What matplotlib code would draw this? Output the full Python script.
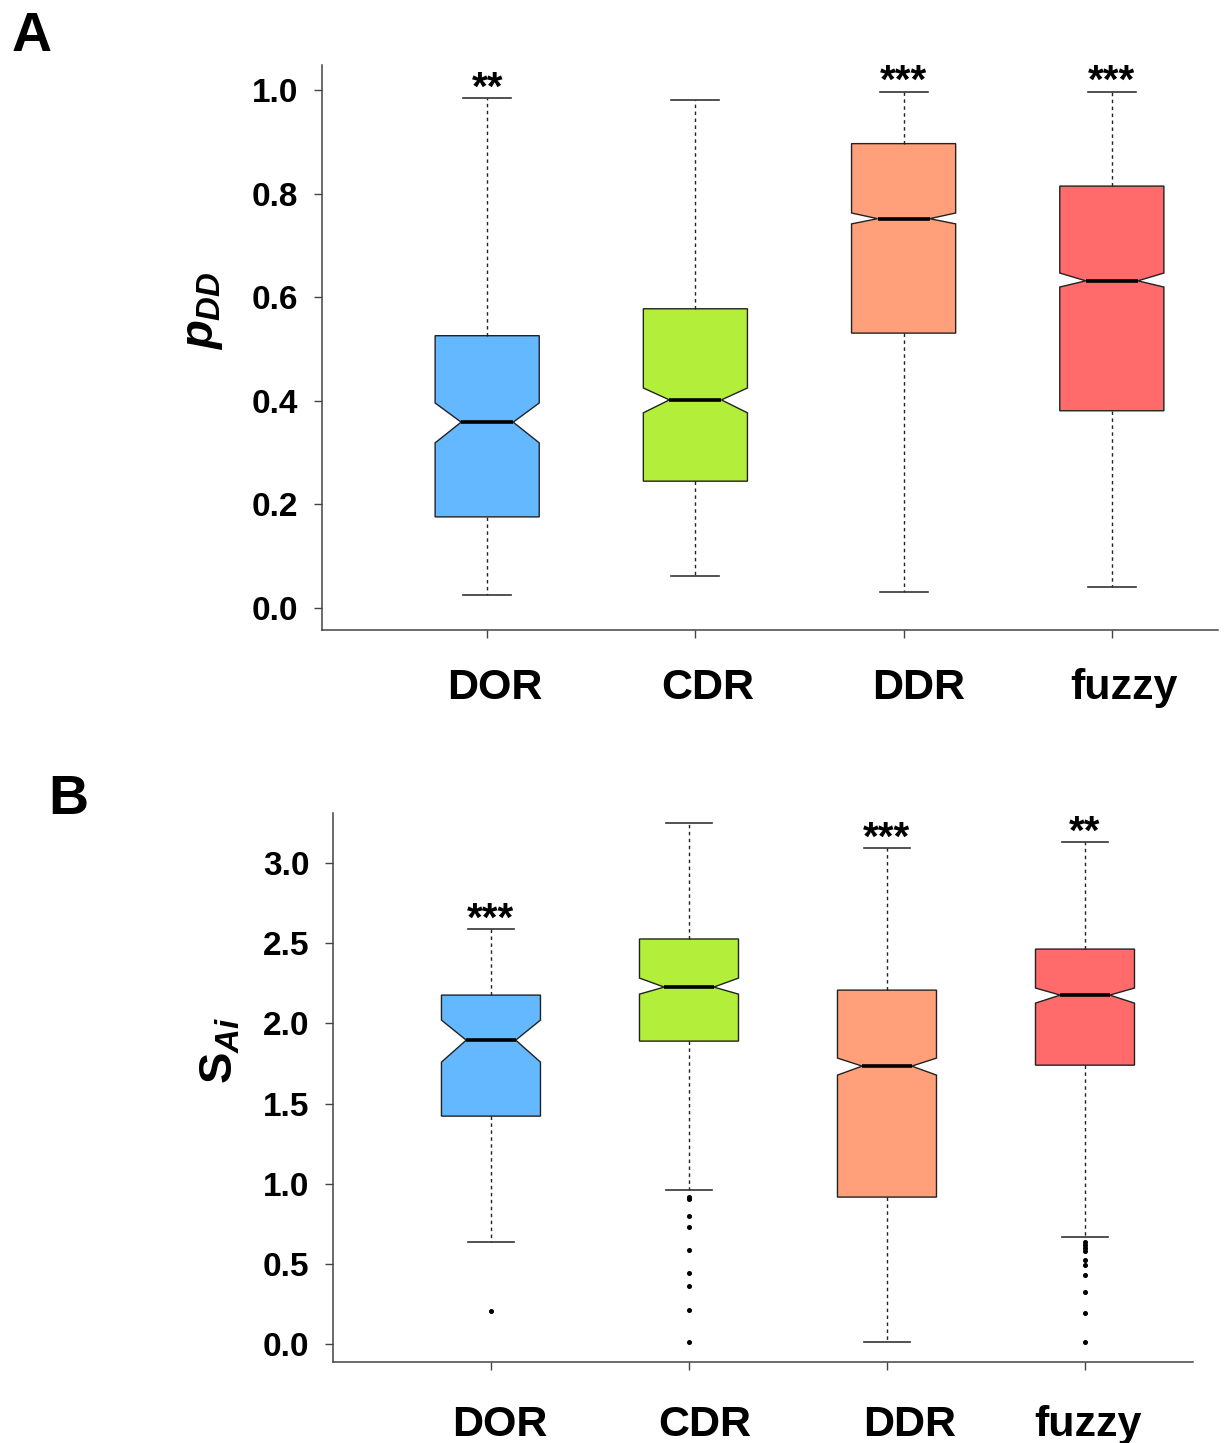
import matplotlib
matplotlib.use('Agg')
import matplotlib.pyplot as plt
from matplotlib.transforms import ScaledTranslation

plt.rcParams['font.family'] = ['Liberation Sans', 'DejaVu Sans']
plt.rcParams['font.weight'] = 'bold'
plt.rcParams['mathtext.fontset'] = 'custom'
plt.rcParams['mathtext.it'] = 'Liberation Sans:bold:italic'
plt.rcParams['mathtext.rm'] = 'Liberation Sans:bold'
plt.rcParams['mathtext.bf'] = 'Liberation Sans:bold'

groups = ['DOR', 'CDR', 'DDR', 'fuzzy']
colors = ['#63B8FF', '#B3EE3A', '#FFA07A', '#FF6A6A']

# panel A: p_DD
a_whislo = [0.025, 0.062, 0.031, 0.041]
a_q1 = [0.176, 0.245, 0.531, 0.381]
a_med = [0.359, 0.402, 0.752, 0.632]
a_q3 = [0.526, 0.578, 0.897, 0.815]
a_whishi = [0.985, 0.982, 0.997, 0.997]
a_cilo = [0.319, 0.377, 0.742, 0.620]
a_cihi = [0.396, 0.425, 0.763, 0.647]
a_fliers = [[], [], [], []]
a_stars = ['**', '', '***', '***']

# panel B: S_Ai
b_whislo = [0.636, 0.961, 0.012, 0.667]
b_q1 = [1.422, 1.890, 0.917, 1.740]
b_med = [1.896, 2.227, 1.734, 2.177]
b_q3 = [2.177, 2.527, 2.208, 2.464]
b_whishi = [2.589, 3.250, 3.094, 3.132]
b_cilo = [1.759, 2.183, 1.678, 2.127]
b_cihi = [2.021, 2.283, 1.784, 2.221]
b_fliers = [[0.206],
            [0.917, 0.905, 0.799, 0.730, 0.586, 0.443, 0.362, 0.212, 0.012],
            [],
            [0.636, 0.618, 0.599, 0.580, 0.524, 0.493, 0.430, 0.324, 0.193, 0.012]]
b_stars = ['***', '', '***', '**']


def panel(ax, whislo, q1, med, q3, whishi, cilo, cihi, fliers, stars,
          yticks, ylim, xlim, ylabel, label_x, label_y, xpad, shifts):
    stats = []
    for i in range(len(groups)):
        stats.append(dict(whislo=whislo[i], q1=q1[i], med=med[i], q3=q3[i],
                          whishi=whishi[i], cilo=cilo[i], cihi=cihi[i],
                          fliers=fliers[i], label=groups[i]))
    pos = list(range(1, len(groups) + 1))
    bp = ax.bxp(stats, positions=pos, widths=0.5, patch_artist=True,
                shownotches=True, showfliers=True, capwidths=0.23,
                boxprops=dict(edgecolor='#222222', linewidth=1.0),
                whiskerprops=dict(color='#222222', linewidth=1.0, linestyle=(0, (2.5, 2.5))),
                capprops=dict(color='#333333', linewidth=1.2),
                medianprops=dict(color='black', linewidth=2.6),
                flierprops=dict(marker='o', markersize=2.6, markerfacecolor='black',
                                markeredgecolor='black', linestyle='none'))
    for patch, c in zip(bp['boxes'], colors):
        patch.set_facecolor(c)
    for p, hi, s in zip(pos, whishi, stars):
        if s:
            ax.annotate(s, (p, hi), xytext=(0, -1), textcoords='offset points',
                        ha='center', va='baseline', fontsize=29, fontweight='bold')
    ax.set_xlim(*xlim)
    ax.set_ylim(*ylim)
    ax.set_yticks(yticks)
    ax.set_yticklabels(['%.1f' % t for t in yticks])
    ax.set_xticks(pos)
    ax.set_xticklabels(groups)
    for sp in ['top', 'right']:
        ax.spines[sp].set_visible(False)
    for sp in ['left', 'bottom']:
        ax.spines[sp].set_color('#444444')
        ax.spines[sp].set_linewidth(1.1)
    ax.tick_params(axis='y', length=6, width=1.0, color='#444444', pad=11, labelsize=24)
    ax.tick_params(axis='x', length=6, width=1.0, color='#444444', pad=xpad, labelsize=31)
    for lab, dx in zip(ax.get_xticklabels(), shifts):
        shift = ScaledTranslation(dx / 100, 0, ax.figure.dpi_scale_trans)
        lab.set_transform(lab.get_transform() + shift)
    ax.set_ylabel(ylabel, fontsize=34)
    ax.yaxis.set_label_coords(label_x, label_y)


fig = plt.figure(figsize=(12.25, 14.43), dpi=100)
axA = fig.add_axes([0.2629, 0.5634, 0.7314, 0.3916])
axB = fig.add_axes([0.2718, 0.0561, 0.7020, 0.3805])

panel(axA, a_whislo, a_q1, a_med, a_q3, a_whishi, a_cilo, a_cihi, a_fliers, a_stars,
      [0.0, 0.2, 0.4, 0.6, 0.8, 1.0], (-0.0425, 1.049), (0.207, 4.51),
      r'$p_{DD}$', -0.108, 0.566, 21, [8, 12, 15, 12])
panel(axB, b_whislo, b_q1, b_med, b_q3, b_whishi, b_cilo, b_cihi, b_fliers, b_stars,
      [0.0, 0.5, 1.0, 1.5, 2.0, 2.5, 3.0], (-0.112, 3.313), (0.202, 4.545),
      r'$\mathrm{S}_{Ai}$', -0.105, 0.568, 25, [9, 16, 23, 3])

fig.text(32 / 1225, 1 - 37 / 1443, 'A', fontsize=40, fontweight='bold', ha='center', va='center')
fig.text(68 / 1225, 1 - 800 / 1443, 'B', fontsize=40, fontweight='bold', ha='center', va='center')

fig.savefig('out.png', dpi=100)
